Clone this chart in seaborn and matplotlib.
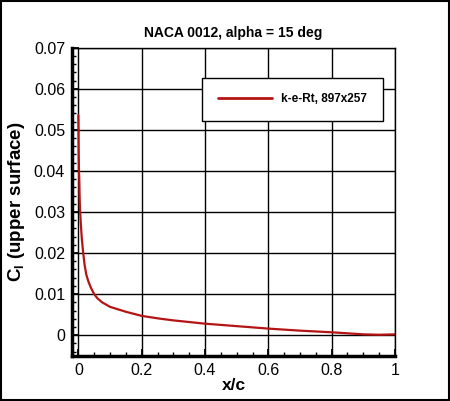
import matplotlib
matplotlib.use("Agg")
import matplotlib.pyplot as plt
import seaborn as sns
import pandas as pd
from matplotlib.ticker import MultipleLocator
from matplotlib.patches import Rectangle

x_c = [0.0, 0.0005, 0.001, 0.002, 0.003, 0.004, 0.005, 0.008, 0.011, 0.015,
       0.020, 0.025, 0.032, 0.040, 0.050, 0.060, 0.075, 0.10, 0.15, 0.20,
       0.25, 0.30, 0.40, 0.50, 0.60, 0.70, 0.80, 0.90, 0.95, 1.00]
cl_upper = [0.0536, 0.0500, 0.0450, 0.0400, 0.0380, 0.0340, 0.0310, 0.0270, 0.0235, 0.0203,
            0.0170, 0.0148, 0.0130, 0.0115, 0.0100, 0.0090, 0.0080, 0.0069, 0.0057, 0.0047,
            0.0041, 0.0036, 0.0028, 0.0022, 0.0016, 0.0011, 0.0007, 0.0002, 0.0001, 0.0002]
series_name = "k-e-Rt, 897x257"

df = pd.DataFrame({"x/c": x_c, "Cl": cl_upper, "series": series_name})

sns.set_style("white")
plt.rcParams["font.family"] = ["Liberation Sans", "DejaVu Sans"]
plt.rcParams["mathtext.fontset"] = "custom"
plt.rcParams["mathtext.rm"] = "Liberation Sans:bold"
plt.rcParams["mathtext.it"] = "Liberation Sans:bold"
plt.rcParams["mathtext.bf"] = "Liberation Sans:bold"
for k in ["text.color", "axes.labelcolor", "xtick.color", "ytick.color"]:
    plt.rcParams[k] = "black"

fig = plt.figure(figsize=(4.5, 4.01), dpi=100)
ax = fig.add_axes([72/450, 1-355.7/401, 323/450, 308/401])

sns.lineplot(data=df, x="x/c", y="Cl", hue="series", palette=["#B41414"],
             linewidth=1.6, ax=ax, sort=False, estimator=None)

ax.set_xlim(-0.02, 1.0)
ax.set_ylim(-0.005, 0.07)
ax.xaxis.set_major_locator(MultipleLocator(0.2))
ax.xaxis.set_minor_locator(MultipleLocator(0.05))
ax.yaxis.set_major_locator(MultipleLocator(0.01))
ax.yaxis.set_minor_locator(MultipleLocator(0.002))
ax.set_xticks([0, 0.2, 0.4, 0.6, 0.8, 1.0])
ax.set_xticklabels(["0", "0.2", "0.4", "0.6", "0.8", "1"])
ax.set_yticks([0, 0.01, 0.02, 0.03, 0.04, 0.05, 0.06, 0.07])
ax.set_yticklabels(["0", "0.01", "0.02", "0.03", "0.04", "0.05", "0.06", "0.07"])

ax.grid(True, which="major", color="black", linewidth=1.0)
ax.set_axisbelow(True)
ax.tick_params(which="both", direction="in", color="black", labelcolor="black",
               labelsize=11.5, left=True, bottom=True, top=False, right=False)
ax.tick_params(which="major", length=5, width=1.3, pad=5)
ax.tick_params(which="minor", length=3, width=1.0)
for s in ["left", "bottom"]:
    ax.spines[s].set_linewidth(2.5)
    ax.spines[s].set_color("black")
for s in ["top", "right"]:
    ax.spines[s].set_linewidth(1.0)
    ax.spines[s].set_color("black")

ax.set_title("NACA 0012, alpha = 15 deg", fontsize=10, fontweight="bold", pad=8,
             color="black")
ax.set_xlabel("x/c", fontsize=12.5, fontweight="bold", labelpad=0, color="black")
ax.set_ylabel(r"C$_{l}$ (upper surface)", fontsize=13.5, fontweight="bold",
              labelpad=5, color="black")

leg = ax.legend(loc="center", bbox_to_anchor=(0.402, 0.758, 0.561, 0.148),
                prop={"size": 8.5, "weight": "bold"}, frameon=True, fancybox=False,
                framealpha=1.0, edgecolor="black", borderpad=1.3,
                handlelength=4.6, handletextpad=0.8, title=None)
leg.get_frame().set_linewidth(1.0)
for line in leg.get_lines():
    line.set_linewidth(2.0)
for t in leg.get_texts():
    t.set_color("black")

fig.patches.append(Rectangle((0.002, 0.002), 0.996, 0.996, transform=fig.transFigure,
                             fill=False, edgecolor="black", linewidth=1.5))

fig.savefig("out.png", dpi=100, facecolor="white")
